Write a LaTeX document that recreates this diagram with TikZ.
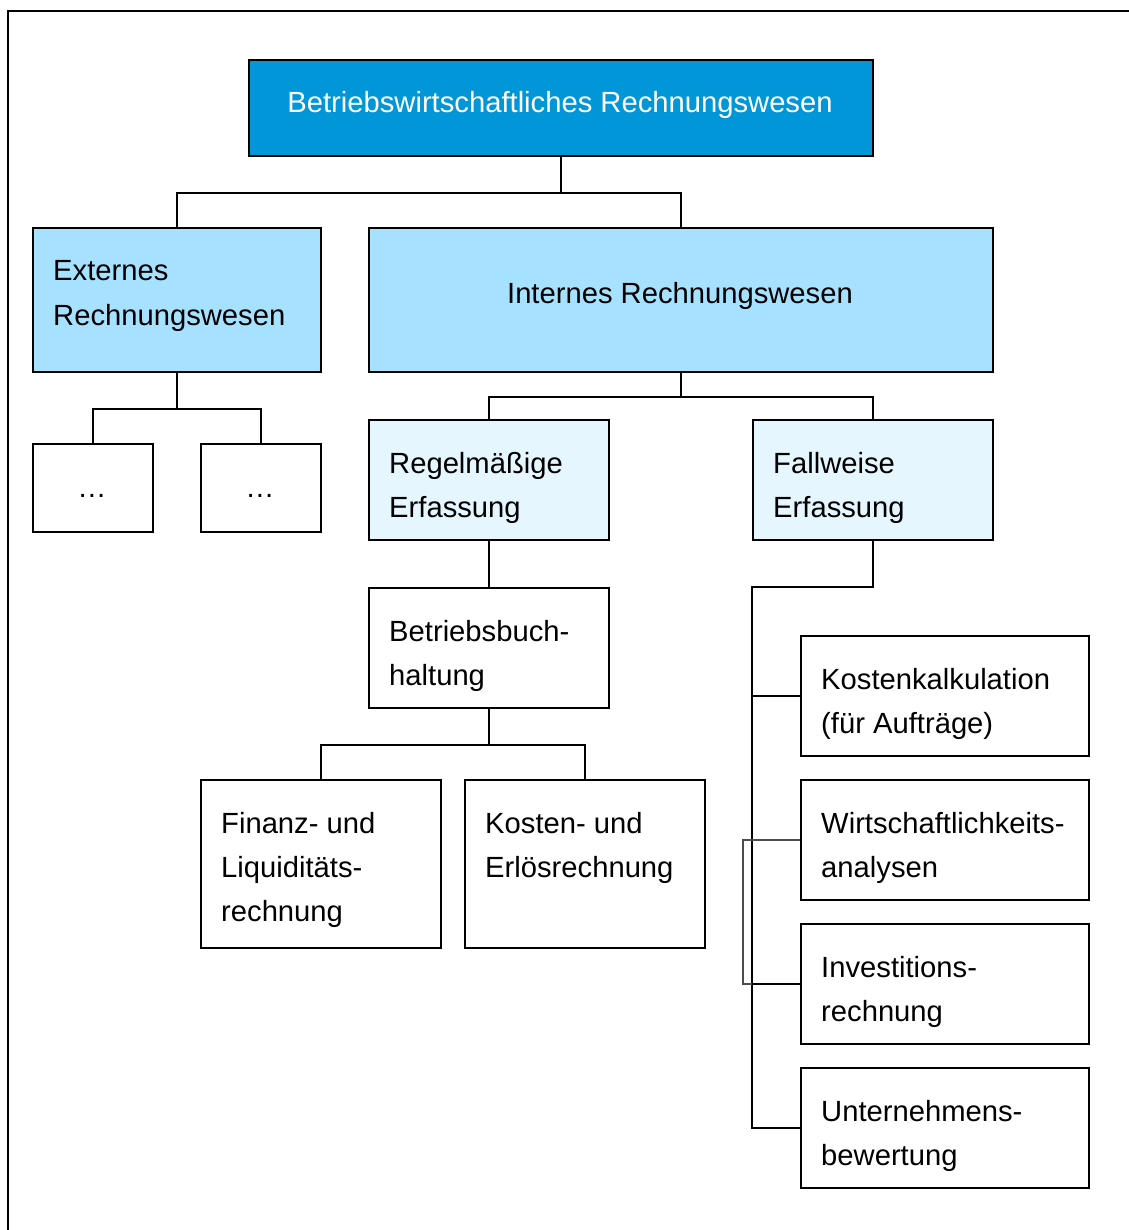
\documentclass[tikz,border=0pt]{standalone}
\usepackage{fontspec}
\setmainfont{Liberation Sans}
\usetikzlibrary{calc}
\definecolor{topblue}{RGB}{0,150,215}
\definecolor{midblue}{RGB}{166,226,255}
\definecolor{lightblue}{RGB}{229,246,255}
\begin{document}
\begin{tikzpicture}[x=1pt,y=-1pt,
  box/.style={draw=black, line width=2pt, rectangle, inner sep=0pt, anchor=north west},
  conn/.style={line width=2pt},
  thinconn/.style={line width=1.5pt, draw=black!70},
  txt/.style={inner sep=0pt, font=\fontsize{29.2}{44}\selectfont},
  lt/.style={txt, anchor=base west},
  ct/.style={txt, anchor=base}]
\useasboundingbox (0,0) rectangle (1128,1230);
% frame
\draw[line width=2.5pt] (8,1232) -- (8,11) -- (1130,11);
% boxes
\node[box, fill=topblue, minimum width=624pt, minimum height=96pt] (top) at (248,59) {};
\node[box, fill=midblue, minimum width=288pt, minimum height=144pt] (ext) at (32,227) {};
\node[box, fill=midblue, minimum width=624pt, minimum height=144pt] (int) at (368,227) {};
\node[box, minimum width=120pt, minimum height=88pt] (d1) at (32,443) {};
\node[box, minimum width=120pt, minimum height=88pt] (d2) at (200,443) {};
\node[box, fill=lightblue, minimum width=240pt, minimum height=120pt] (reg) at (368,419) {};
\node[box, fill=lightblue, minimum width=240pt, minimum height=120pt] (fall) at (752,419) {};
\node[box, minimum width=240pt, minimum height=120pt] (bbh) at (368,587) {};
\node[box, minimum width=240pt, minimum height=168pt] (fin) at (200,779) {};
\node[box, minimum width=240pt, minimum height=168pt] (ker) at (464,779) {};
\node[box, minimum width=288pt, minimum height=120pt] (kk) at (800,635) {};
\node[box, minimum width=288pt, minimum height=120pt] (wa) at (800,779) {};
\node[box, minimum width=288pt, minimum height=120pt] (ir) at (800,923) {};
\node[box, minimum width=288pt, minimum height=120pt] (ub) at (800,1067) {};
% texts
\node[ct, text=white] (topt) at (560,113) {Betriebswirtschaftliches Rechnungswesen};
\node[lt] (ext1) at (53,281) {Externes};
\node[lt] (ext2) at (53,325) {Rechnungswesen};
\node[ct] (intt) at (680,304) {Internes Rechnungswesen};
\node[ct] (d1t) at (92,497) {…};
\node[ct] (d2t) at (260,497) {…};
\node[lt] (reg1) at (389,473) {Regelmäßige};
\node[lt] (reg2) at (389,517) {Erfassung};
\node[lt] (fall1) at (773,473) {Fallweise};
\node[lt] (fall2) at (773,517) {Erfassung};
\node[lt] (bbh1) at (389,641) {Betriebsbuch-};
\node[lt] (bbh2) at (389,685) {haltung};
\node[lt] (fin1) at (221,833) {Finanz- und};
\node[lt] (fin2) at (221,877) {Liquiditäts-};
\node[lt] (fin3) at (221,921) {rechnung};
\node[lt] (ker1) at (485,833) {Kosten- und};
\node[lt] (ker2) at (485,877) {Erlösrechnung};
\node[lt] (kk1) at (821,689) {Kostenkalkulation};
\node[lt] (kk2) at (821,733) {(für Aufträge)};
\node[lt] (wa1) at (821,833) {Wirtschaftlichkeits-};
\node[lt] (wa2) at (821,877) {analysen};
\node[lt] (ir1) at (821,977) {Investitions-};
\node[lt] (ir2) at (821,1021) {rechnung};
\node[lt] (ub1) at (821,1121) {Unternehmens-};
\node[lt] (ub2) at (821,1165) {bewertung};
% connectors
\draw[conn] (ext.north) |- ($(top.south)+(0,36)$) -| (int.north);
\draw[conn] (top.south) -- ++(0,36);
\draw[conn] (d1.north) |- ($(ext.south)+(0,36)$) -| (d2.north);
\draw[conn] (ext.south) -- ++(0,36);
\draw[conn] (reg.north) |- ($(int.south)+(0,24)$) -| (fall.north);
\draw[conn] (int.south) -- ++(0,24);
\draw[conn] (reg.south) -- (bbh.north);
\draw[conn] (fin.north) |- ($(bbh.south)+(0,36)$) -| (ker.north);
\draw[conn] (bbh.south) -- ++(0,36);
\coordinate (trunk) at (752,587);
\draw[conn] (fall.south) |- (trunk) |- (ub.west);
\draw[conn] (kk.west) -- (kk.west -| trunk);
\draw[thinconn] (wa.west) -- ++(-57,0) |- (ir.west);
\draw[conn] (ir.west) -- (ir.west -| trunk);
\end{tikzpicture}
\end{document}
